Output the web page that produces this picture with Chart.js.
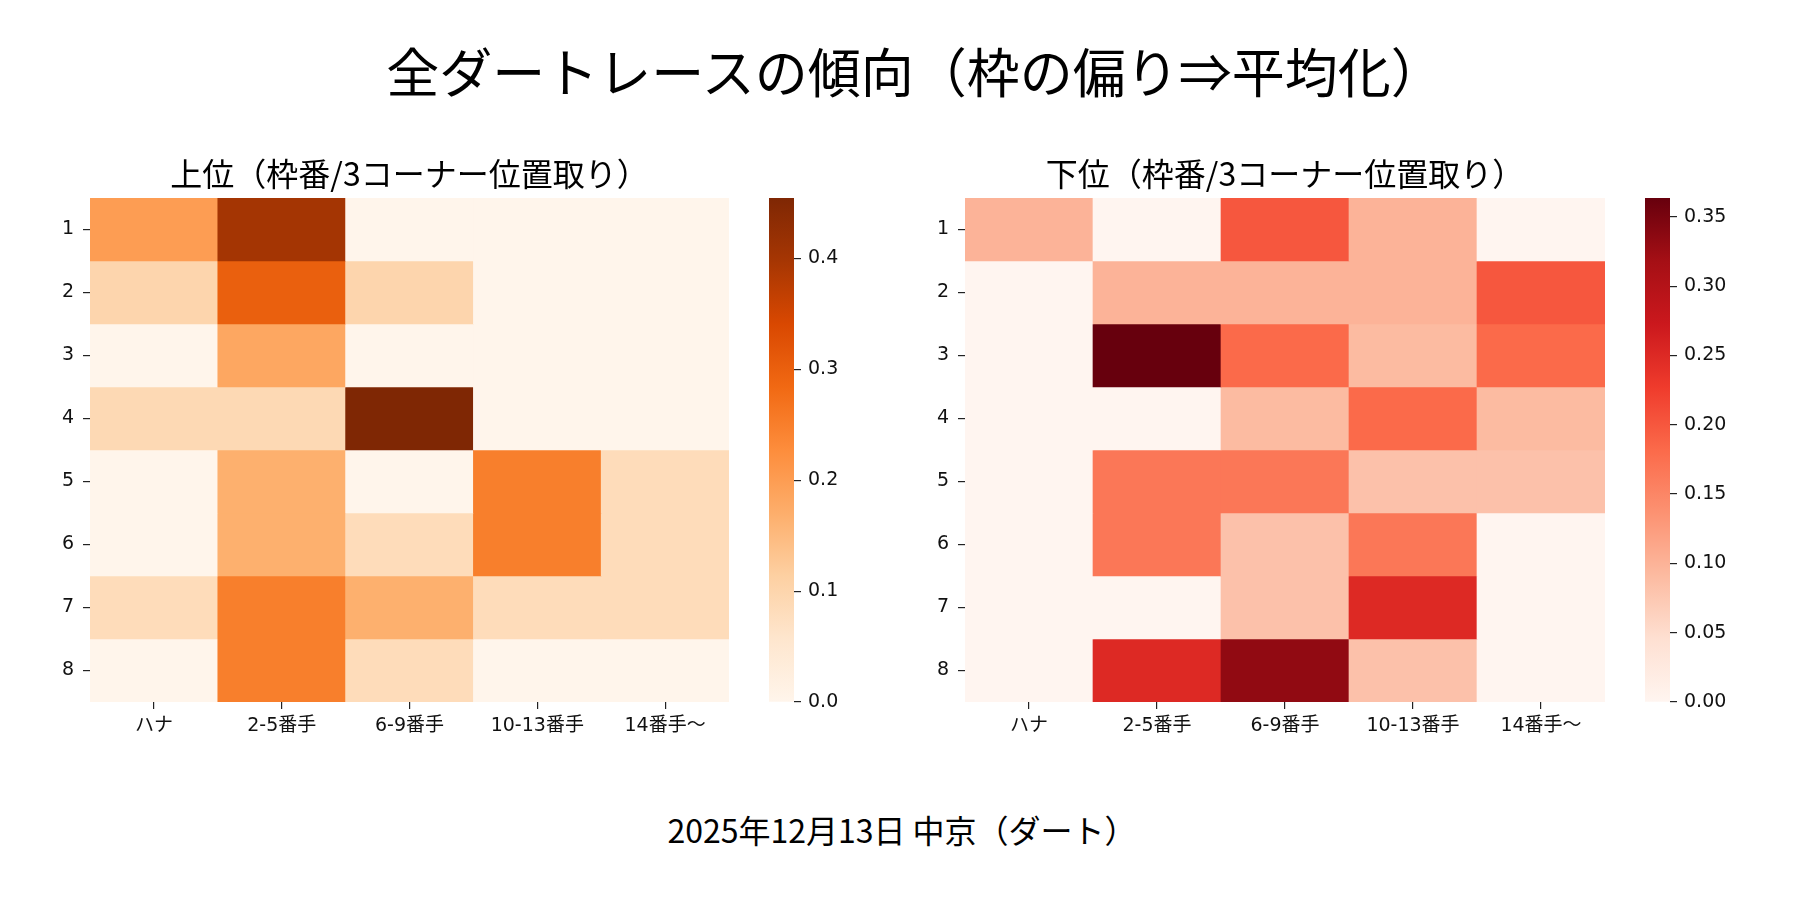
<!DOCTYPE html>
<html lang="ja">
<head>
<meta charset="utf-8">
<script src="https://cdn.jsdelivr.net/npm/chart.js@4.4.1/dist/chart.umd.min.js"></script>
<style>
  body { margin: 0; background: #fff; width: 1800px; height: 900px; position: relative; overflow: hidden;
         font-family: "Noto Sans CJK JP", "Noto Sans", sans-serif; color: #000; }
  .box { position: absolute; }
  #title { position: absolute; left: 15px; width: 1800px; top: 44px; text-align: center; font-size: 53px; line-height: 53px; }
  #footer { position: absolute; left: 2px; width: 1800px; top: 813px; text-align: center; font-size: 32px; line-height: 32px; }
</style>
</head>
<body>
<div id="title">全ダートレースの傾向（枠の偏り⇒平均化）</div>
<div class="box" style="left:0px;top:140px;width:780px;height:620px"><canvas id="top-heat"></canvas></div>
<div class="box" style="left:740px;top:140px;width:130px;height:620px"><canvas id="top-bar"></canvas></div>
<div class="box" style="left:880px;top:140px;width:780px;height:620px"><canvas id="low-heat"></canvas></div>
<div class="box" style="left:1620px;top:140px;width:150px;height:620px"><canvas id="low-bar"></canvas></div>
<div id="footer">2025年12月13日 中京（ダート）</div>
<script>
// 3コーナー位置取り (columns) and 枠番 (rows)
const positions = ["ハナ", "2-5番手", "6-9番手", "10-13番手", "14番手〜"];
const gates = ["1", "2", "3", "4", "5", "6", "7", "8"];

// 上位 share per gate row
const topShare = [
  [0.2, 0.4, 0, 0, 0],
  [0.1, 0.3, 0.1, 0, 0],
  [0, 0.182, 0, 0, 0],
  [0.091, 0.091, 0.4545, 0, 0],
  [0, 0.167, 0, 0.25, 0.083],
  [0, 0.167, 0.083, 0.25, 0.083],
  [0.083, 0.25, 0.167, 0.083, 0.083],
  [0, 0.25, 0.083, 0, 0],
];

// 下位 share per gate row
const lowShare = [
  [0.1, 0, 0.2, 0.1, 0],
  [0, 0.1, 0.1, 0.1, 0.2],
  [0, 0.3636, 0.182, 0.091, 0.182],
  [0, 0, 0.091, 0.182, 0.091],
  [0, 0.167, 0.167, 0.083, 0.083],
  [0, 0.167, 0.083, 0.167, 0],
  [0, 0, 0.083, 0.25, 0],
  [0, 0.25, 0.333, 0.083, 0],
];

const topTicks = [0, 0.1, 0.2, 0.3, 0.4];
const lowTicks = [0, 0.05, 0.1, 0.15, 0.2, 0.25, 0.3, 0.35];

const ORANGES = ["#fff5eb", "#fee6ce", "#fdd0a2", "#fdae6b", "#fd8d3c", "#f16913", "#d94801", "#a63603", "#7f2704"];
const REDS = ["#fff5f0", "#fee0d2", "#fcbba1", "#fc9272", "#fb6a4a", "#ef3b2c", "#cb181d", "#a50f15", "#67000d"];

Chart.defaults.font.family = '"Noto Sans CJK JP", "Noto Sans", sans-serif';
Chart.defaults.color = "#111";
Chart.defaults.animation = false;

function hex(c) {
  return [1, 3, 5].map((i) => parseInt(c.slice(i, i + 2), 16));
}

function cmap(stops, t) {
  t = Math.max(0, Math.min(1, t));
  const pos = t * (stops.length - 1);
  const i = Math.min(Math.floor(pos), stops.length - 2);
  const f = pos - i;
  const a = hex(stops[i]);
  const b = hex(stops[i + 1]);
  const rgb = a.map((v, k) => Math.round(v + (b[k] - v) * f));
  return `rgb(${rgb.join(",")})`;
}

const tickFont = { size: 19, family: '"DejaVu Sans", "Noto Sans CJK JP", sans-serif' };

function heatmap(id, title, values, stops, padLeft, padRight) {
  const vmax = Math.max(...values.flat());
  new Chart(document.querySelector(id).getContext("2d"), {
    type: "bar",
    data: {
      labels: positions,
      datasets: gates.map((g, i) => ({
        label: g,
        data: positions.map(() => [i + 0.5, i + 1.5]),
        backgroundColor: values[i].map((v) => cmap(stops, v / vmax)),
        borderWidth: 0,
        grouped: false,
        barPercentage: 1,
        categoryPercentage: 1,
      })),
    },
    options: {
      responsive: true,
      maintainAspectRatio: false,
      layout: { padding: { left: padLeft, right: padRight, top: 4, bottom: 8 } },
      plugins: {
        legend: { display: false },
        tooltip: { enabled: false },
        title: {
          display: true,
          text: title,
          fullSize: false,
          color: "#000",
          font: { size: 32, weight: "normal", lineHeight: 1 },
          padding: { top: 14, bottom: 8 },
        },
      },
      scales: {
        x: {
          type: "category",
          offset: true,
          grid: { offset: false, drawOnChartArea: false, tickLength: 7, color: "#222", lineWidth: 1.2 },
          border: { display: false },
          ticks: { font: tickFont, padding: 6, maxRotation: 0 },
          afterFit: (s) => { s.height = 50; },
        },
        y: {
          type: "linear",
          min: 0.5,
          max: 8.5,
          reverse: true,
          grid: { drawOnChartArea: false, tickLength: 7, color: "#222", lineWidth: 1.2 },
          border: { display: false },
          afterBuildTicks: (s) => { s.ticks = gates.map((g, i) => ({ value: i + 1 })); },
          ticks: { font: tickFont, padding: 9, callback: (v) => gates[v - 1] },
          afterFit: (s) => { s.width = 40; },
        },
      },
    },
  });
  return vmax;
}

function colorbar(id, vmax, stops, ticks, digits, padLeft, axisWidth, padRight) {
  new Chart(document.querySelector(id).getContext("2d"), {
    type: "bar",
    data: {
      labels: [""],
      datasets: [{
        data: [[0, vmax]],
        borderWidth: 0,
        barPercentage: 1,
        categoryPercentage: 1,
        backgroundColor: (ctx) => {
          const area = ctx.chart.chartArea;
          if (!area) return stops[0];
          const g = ctx.chart.ctx.createLinearGradient(0, area.bottom, 0, area.top);
          stops.forEach((c, k) => g.addColorStop(k / (stops.length - 1), c));
          return g;
        },
      }],
    },
    options: {
      responsive: true,
      maintainAspectRatio: false,
      layout: { padding: { left: padLeft, right: padRight, top: 58, bottom: 58 } },
      plugins: { legend: { display: false }, tooltip: { enabled: false } },
      scales: {
        x: { display: false },
        y: {
          position: "right",
          min: 0,
          max: vmax,
          grid: { drawOnChartArea: false, tickLength: 7, color: "#222", lineWidth: 1.2 },
          border: { display: false },
          afterBuildTicks: (s) => { s.ticks = ticks.map((v) => ({ value: v })); },
          ticks: { font: tickFont, padding: 7, callback: (v) => Number(v).toFixed(digits) },
          afterFit: (s) => { s.width = axisWidth; },
        },
      },
    },
  });
}

const topMax = heatmap("#top-heat", "上位（枠番/3コーナー位置取り）", topShare, ORANGES, 50, 51);
colorbar("#top-bar", topMax, ORANGES, topTicks, 1, 29, 60, 16);
const lowMax = heatmap("#low-heat", "下位（枠番/3コーナー位置取り）", lowShare, REDS, 45, 55);
colorbar("#low-bar", lowMax, REDS, lowTicks, 2, 25, 80, 20);
</script>
</body>
</html>
